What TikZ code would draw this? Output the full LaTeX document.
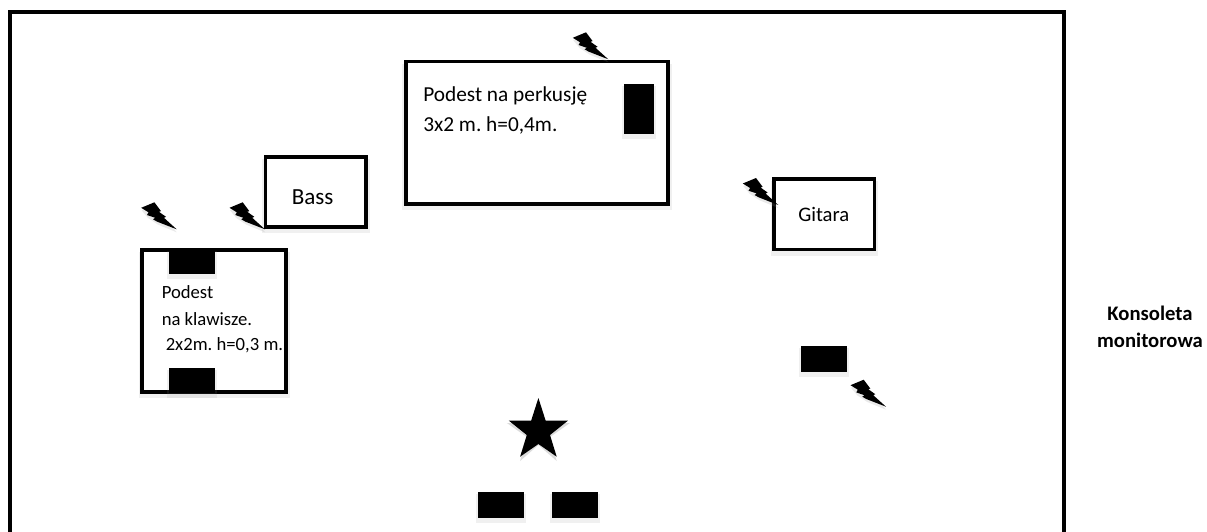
\documentclass[tikz,border=0pt]{standalone}
\usepackage{fontspec}
\setmainfont{Carlito}
\usetikzlibrary{calc}
\definecolor{soft}{gray}{0.55}
\tikzset{
  x=0.75pt, y=-0.75pt,
  pad/.style={draw=black, line width=2.8pt, fill=white, inner sep=0pt, outer sep=0pt},
  blackbox/.style={fill=black, draw=none},
  softshadow/.style={fill=soft, opacity=0.13, draw=none},
  lbl/.style={anchor=base west, inner sep=0pt, font=\fontsize{16pt}{19pt}\selectfont},
  lblbass/.style={anchor=base west, inner sep=0pt, font=\fontsize{17.3pt}{20pt}\selectfont},
  lblgit/.style={anchor=base west, inner sep=0pt, font=\fontsize{15.5pt}{18pt}\selectfont},
  lblsmall/.style={anchor=base west, inner sep=0pt, font=\fontsize{14pt}{17pt}\selectfont},
  lblbold/.style={anchor=base, inner sep=0pt, font=\fontsize{15.5pt}{18pt}\selectfont\bfseries},
}
\newcommand{\boltshape}[2]{%
  \begin{scope}[shift={(#1,#2)}]
  \fill[soft, opacity=0.18] (0,3) -- (-18.7,-4.7) -- (-28.7,-11.3) -- (-35,-19) -- (-22,-24) -- cycle;
  \fill[black] (0,0) -- (-19.7,-7.7) -- (-23.7,-10) -- (-21.5,-11.5) -- (-29.7,-14.3) -- (-28.2,-17) -- (-35.5,-21.5)
    -- (-22.3,-27) -- (-15.7,-18.2) -- (-17.8,-17.5) -- (-10.7,-12.5) -- (-12.8,-11.5) -- cycle;
  \end{scope}}
\newcommand{\softrect}[4]{%
  \fill[softshadow] (#1-2,#2+2) rectangle (#3+2,#4+5);
  \fill[blackbox] (#1,#2) rectangle (#3,#4);}
\begin{document}\frenchspacing
\begin{tikzpicture}
\useasboundingbox (0,0) rectangle (1207,532);
\fill[white] (0,0) rectangle (1207,532);
% outer frame
\draw[line width=3pt, black] (10.3,540) -- (10.3,12) -- (1064,12) -- (1064,540);
% shadows of pads
\fill[softshadow] (402,64) rectangle (672,210);
\fill[softshadow] (262,159) rectangle (370,233);
\fill[softshadow] (139,252) rectangle (290,398);
\fill[softshadow] (771,181) rectangle (878,256);
% pads
\draw[pad] (406.3,61.5) rectangle (668.3,203.8);
\draw[pad] (265.5,157) rectangle (366,227);
\draw[pad] (142.3,250.3) rectangle (286,391.7);
\draw[pad] (774,179.3) rectangle (874.5,249.5);
% monitors
\softrect{169}{248.7}{215}{274}
\softrect{169}{368.3}{215}{393.3}
\softrect{624.3}{84}{653.7}{134}
\softrect{801}{345.7}{847.3}{371.7}
\softrect{478.3}{492.3}{524.3}{518.3}
\softrect{551.7}{492.3}{597.7}{518.3}
% star
\fill[soft, opacity=0.3] (538.4,402) -- (545.6,423) -- (569.9,423) -- (550,437) -- (556.7,461) -- (538.4,445) -- (520.1,461) -- (526.8,437) -- (506.9,423) -- (531.2,423) -- cycle;
\fill[black] (538.4,398) -- (545.6,420.5) -- (567.9,420.7) -- (550,435) -- (556.7,456.7) -- (538.4,444) -- (520.1,456.7) -- (526.8,435) -- (508.9,420.7) -- (531.2,420.5) -- cycle;
% bolts
\boltshape{176.7}{229.3}
\boltshape{265}{229.3}
\boltshape{608.3}{59.3}
\boltshape{778.3}{205}
\boltshape{886}{406.7}
% labels
\node[lbl] (perc1) at (423,101.5) {Podest na perkusję};
\node[lbl] (perc2) at (423,131.5) {3x2 m. h=0,4m.};
\node[lblbass] (bass) at (291.5,204) {Bass};
\node[lblgit] (git) at (798,221.5) {Gitara};
\node[lblsmall] (key1) at (161.5,298) {Podest};
\node[lblsmall] (key2) at (161.5,325.5) {na klawisze.};
\node[lblsmall] (key3) at (165.5,350) {2x2m. h=0,3 m.};
\node[lblbold] (kons1) at (1150,320) {Konsoleta};
\node[lblbold] (kons2) at (1150,347) {monitorowa};
\end{tikzpicture}
\end{document}
